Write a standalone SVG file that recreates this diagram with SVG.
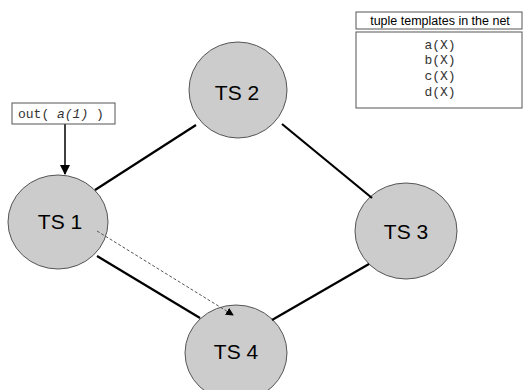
<svg xmlns="http://www.w3.org/2000/svg" width="523" height="390" viewBox="0 0 523 390">
  <style>
    .ts { fill: #cccccc; stroke: #555555; stroke-width: 1; }
    .lbl { font-family: "Liberation Sans", Arial, sans-serif; font-size: 21px; fill: #000; text-anchor: middle; }
    .mono { font-family: "Liberation Mono", "Courier New", monospace; font-size: 13px; fill: #333; }
    .link { stroke: #000; stroke-width: 2.2; fill: none; }
    .box { fill: #fff; stroke: #555; stroke-width: 1; }
  </style>
  <defs>
    <marker id="solidHead" markerWidth="10" markerHeight="10" refX="9" refY="5" orient="auto" markerUnits="userSpaceOnUse">
      <path d="M0,0 L10,5 L0,10 Z" fill="#000"/>
    </marker>
    <marker id="smallHead" markerWidth="8" markerHeight="8" refX="7" refY="4" orient="auto" markerUnits="userSpaceOnUse">
      <path d="M0,0 L8,4 L0,8 Z" fill="#000"/>
    </marker>
  </defs>

  <g id="ts2">
    <ellipse class="ts" cx="238" cy="90" rx="49" ry="48"/>
    <text class="lbl" x="237" y="100">TS 2</text>
  </g>
  <g id="ts1">
    <ellipse class="ts" cx="58" cy="222" rx="50" ry="47"/>
    <text class="lbl" x="60" y="229">TS 1</text>
  </g>
  <g id="ts3">
    <ellipse class="ts" cx="406" cy="231" rx="51" ry="48"/>
    <text class="lbl" x="406" y="239">TS 3</text>
  </g>
  <g id="ts4">
    <ellipse class="ts" cx="236" cy="353" rx="51" ry="48"/>
    <text class="lbl" x="236" y="359">TS 4</text>
  </g>

  <!-- links end at the node rims; the dashed move runs across the nodes -->
  <g id="connectors">
    <line class="link" x1="95" y1="190" x2="196" y2="125"/>
    <line class="link" x1="282" y1="124" x2="372" y2="198"/>
    <line class="link" x1="369" y1="264" x2="272" y2="320"/>
    <line class="link" x1="97" y1="256" x2="200" y2="318"/>
    <line x1="65" y1="124" x2="65" y2="174" stroke="#000" stroke-width="1.5" marker-end="url(#solidHead)"/>
    <line x1="97" y1="231" x2="233" y2="315" stroke="#555" stroke-width="1" stroke-dasharray="3,2" marker-end="url(#smallHead)"/>
  </g>

  <g id="out-op">
    <rect class="box" x="12" y="103" width="103" height="21"/>
    <text class="mono" x="18" y="118" xml:space="preserve">out( <tspan font-style="italic">a(1)</tspan> )</text>
  </g>

  <g id="templates">
    <rect class="box" x="356" y="12" width="166" height="17"/>
    <text x="440" y="25" font-family="Liberation Sans, Arial, sans-serif" font-size="12.5" text-anchor="middle" fill="#000">tuple templates in the net</text>
    <rect class="box" x="356" y="32" width="166" height="76"/>
    <text class="mono" x="440" y="49" text-anchor="middle">a(X)</text>
    <text class="mono" x="440" y="64" text-anchor="middle">b(X)</text>
    <text class="mono" x="440" y="80" text-anchor="middle">c(X)</text>
    <text class="mono" x="440" y="96" text-anchor="middle">d(X)</text>
  </g>
</svg>
